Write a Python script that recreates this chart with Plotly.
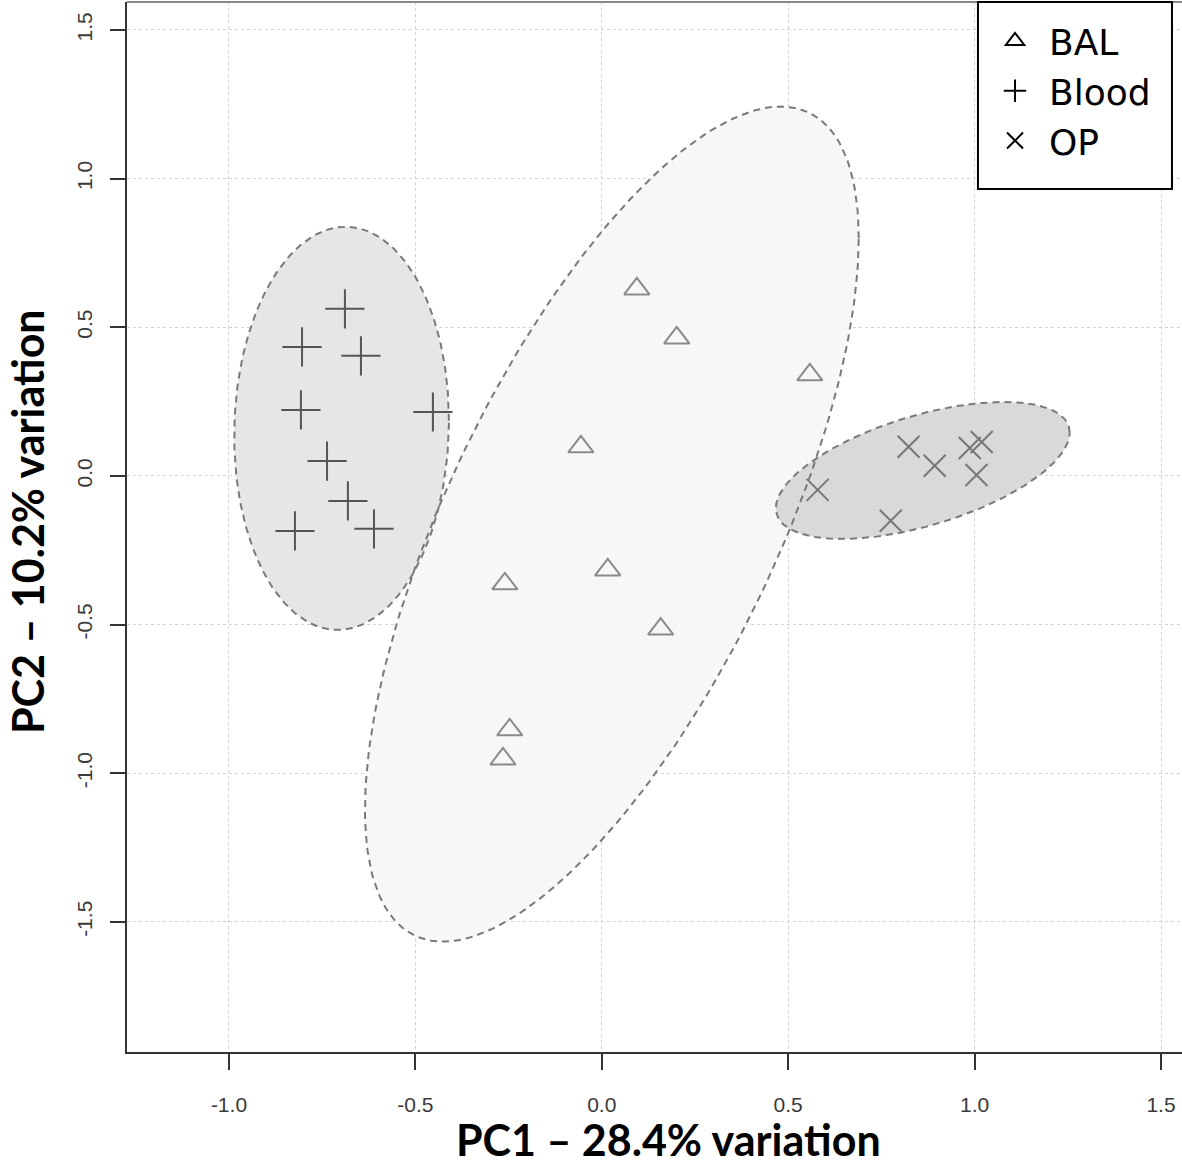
import numpy as np
import plotly.graph_objects as go

# ---- data ----
bal_x = [0.094, 0.201, 0.558, -0.056, -0.260, 0.016, 0.158, -0.247, -0.265]
bal_y = [0.629, 0.464, 0.340, 0.098, -0.363, -0.316, -0.515, -0.854, -0.952]

blood_x = [-0.689, -0.804, -0.646, -0.807, -0.453, -0.737, -0.681, -0.611, -0.823]
blood_y = [0.562, 0.434, 0.404, 0.222, 0.215, 0.050, -0.084, -0.178, -0.185]

op_x = [0.823, 0.893, 0.987, 1.019, 1.005, 0.579, 0.775]
op_y = [0.098, 0.034, 0.094, 0.114, 0.003, -0.047, -0.151]

# ellipse parameters: centre and covariance-like shape matrix (sxx, syy, sxy)
bal_ell = dict(cx=0.027, cy=-0.162, sxx=0.4385, syy=1.972, sxy=0.6363)
blood_ell = dict(cx=-0.698, cy=0.160, sxx=0.0829, syy=0.4597, sxy=0.0073)
op_ell = dict(cx=0.861, cy=0.0185, sxx=0.1553, syy=0.0531, sxy=0.0500)

x_ticks = [-1.0, -0.5, 0.0, 0.5, 1.0, 1.5]
y_ticks = [-1.5, -1.0, -0.5, 0.0, 0.5, 1.0, 1.5]


def ellipse(p, n=240):
    m = np.array([[p["sxx"], p["sxy"]], [p["sxy"], p["syy"]]])
    L = np.linalg.cholesky(m)
    t = np.linspace(0, 2 * np.pi, n)
    pts = L @ np.vstack([np.cos(t), np.sin(t)])
    return p["cx"] + pts[0], p["cy"] + pts[1]


fig = go.Figure()

# fills (BAL first, then Blood and OP on top)
for p, col in [(bal_ell, "#f7f7f7"), (blood_ell, "#e6e6e6"), (op_ell, "#d9d9d9")]:
    ex, ey = ellipse(p)
    fig.add_trace(go.Scatter(x=ex, y=ey, mode="lines", fill="toself", fillcolor=col,
                             line=dict(width=0), hoverinfo="skip", showlegend=False))
# dashed outlines
for p in [bal_ell, blood_ell, op_ell]:
    ex, ey = ellipse(p)
    fig.add_trace(go.Scatter(x=ex, y=ey, mode="lines",
                             line=dict(color="#7a7a7a", width=2, dash="7px,5px"),
                             hoverinfo="skip", showlegend=False))

# points
fig.add_trace(go.Scatter(x=bal_x, y=bal_y, mode="markers", showlegend=False, name="BAL",
                         marker=dict(symbol="triangle-up-open", size=22, color="#8a8a8a",
                                     line=dict(width=2, color="#8a8a8a"))))
fig.add_trace(go.Scatter(x=blood_x, y=blood_y, mode="markers", showlegend=False, name="Blood",
                         marker=dict(symbol="cross-thin-open", size=28, color="#555555",
                                     line=dict(width=2, color="#555555"))))
fig.add_trace(go.Scatter(x=op_x, y=op_y, mode="markers", showlegend=False, name="OP",
                         marker=dict(symbol="x-thin-open", size=22, color="#777777",
                                     line=dict(width=2, color="#777777"))))

# legend entries (black symbols)
for nm, sym in [("BAL", "triangle-up-open"), ("Blood", "cross-thin-open"), ("OP", "x-thin-open")]:
    fig.add_trace(go.Scatter(x=[None], y=[None], mode="markers", name=nm,
                             marker=dict(symbol=sym, size=16, color="black",
                                         line=dict(width=2, color="black"))))

tick_font = dict(family="Liberation Sans, Arial, sans-serif", size=21, color="#3a3a3a")

fig.update_layout(
    width=1182, height=1167,
    margin=dict(l=127, r=0, t=2, b=115),
    paper_bgcolor="white", plot_bgcolor="white",
    showlegend=True,
    legend=dict(x=0.8095, y=0.9914, xanchor="left", yanchor="top",
                bgcolor="rgba(0,0,0,0)", borderwidth=0,
                font=dict(family="DejaVu Sans, sans-serif", size=36, color="black"),
                itemwidth=58, tracegroupgap=0),
    xaxis=dict(range=[-1.2735, 1.5563], tickvals=x_ticks,
               ticktext=[f"{v:.1f}" for v in x_ticks], tickfont=tick_font,
               showgrid=True, gridcolor="#d2d2d2", gridwidth=1, griddash="3px,3px",
               zeroline=False, showline=True, linecolor="#333333", linewidth=2,
               ticks="outside", ticklen=16, tickwidth=2, tickcolor="#333333",
               ticklabelstandoff=17),
    yaxis=dict(range=[-1.9375, 1.594], tickvals=y_ticks,
               ticktext=[f"{v:.1f}" for v in y_ticks], tickfont=tick_font, tickangle=-90,
               showgrid=True, gridcolor="#d2d2d2", gridwidth=1, griddash="3px,3px",
               zeroline=False, showline=True, linecolor="#333333", linewidth=2,
               ticks="outside", ticklen=15, tickwidth=2, tickcolor="#333333",
               ticklabelstandoff=10),
    shapes=[
        dict(type="line", xref="paper", yref="paper", x0=0, x1=1, y0=1, y1=1,
             line=dict(color="#888888", width=2)),
        dict(type="rect", xref="paper", yref="paper", x0=0.8066, x1=0.9905, y0=0.8219, y1=1.0,
             fillcolor="white", line=dict(color="black", width=2), layer="above"),
    ],
    annotations=[
        dict(text="<b>PC1 – 28.4% variation</b>", xref="paper", yref="paper",
             x=0.5128, y=-0.0829, xanchor="center", yanchor="middle", showarrow=False,
             font=dict(family="Lato, Open Sans, sans-serif", size=43, color="black")),
        dict(text="<b>PC2 – 10.2% variation</b>", xref="paper", yref="paper",
             x=-0.0938, y=0.5048, xanchor="center", yanchor="middle", showarrow=False,
             textangle=-90,
             font=dict(family="Lato, Open Sans, sans-serif", size=43, color="black")),
    ],
)

fig.write_html("out.html", config={"displayModeBar": False},
               post_script="document.body.style.margin='0';")
